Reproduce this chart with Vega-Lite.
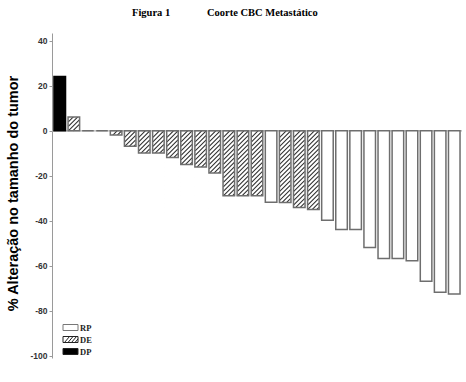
{
  "$schema": "https://vega.github.io/schema/vega-lite/v6.json",
  "width": 410,
  "height": 325,
  "autosize": {"type": "none"},
  "padding": {"left": 52, "top": 33, "right": 4, "bottom": 24},
  "background": "white",
  "title": {
    "text": "Figura 1\u00a0\u00a0\u00a0\u00a0\u00a0\u00a0\u00a0\u00a0\u00a0\u00a0\u00a0\u00a0\u00a0\u00a0Coorte CBC Metastático",
    "anchor": "start",
    "frame": "group",
    "dx": 80,
    "offset": 6.5,
    "baseline": "alphabetic",
    "font": "Liberation Serif",
    "fontSize": 10.5,
    "fontWeight": "bold",
    "color": "black"
  },
  "data": {
    "values": [
      {"id": 1, "status": "DP", "value": 24.2},
      {"id": 2, "status": "DE", "value": 6.2},
      {"id": 3, "status": "DE", "value": 0},
      {"id": 4, "status": "DE", "value": 0},
      {"id": 5, "status": "DE", "value": -1.8},
      {"id": 6, "status": "DE", "value": -6.9},
      {"id": 7, "status": "DE", "value": -9.8},
      {"id": 8, "status": "DE", "value": -9.8},
      {"id": 9, "status": "DE", "value": -11.9},
      {"id": 10, "status": "DE", "value": -15.0},
      {"id": 11, "status": "DE", "value": -16.1},
      {"id": 12, "status": "DE", "value": -18.7},
      {"id": 13, "status": "DE", "value": -28.9},
      {"id": 14, "status": "DE", "value": -28.9},
      {"id": 15, "status": "DE", "value": -28.9},
      {"id": 16, "status": "RP", "value": -31.8},
      {"id": 17, "status": "DE", "value": -31.9},
      {"id": 18, "status": "DE", "value": -34.1},
      {"id": 19, "status": "DE", "value": -35.0},
      {"id": 20, "status": "RP", "value": -39.8},
      {"id": 21, "status": "RP", "value": -43.9},
      {"id": 22, "status": "RP", "value": -43.9},
      {"id": 23, "status": "RP", "value": -51.9},
      {"id": 24, "status": "RP", "value": -56.8},
      {"id": 25, "status": "RP", "value": -56.8},
      {"id": 26, "status": "RP", "value": -57.8},
      {"id": 27, "status": "RP", "value": -66.9},
      {"id": 28, "status": "RP", "value": -71.8},
      {"id": 29, "status": "RP", "value": -72.6}
    ]
  },
  "layer": [
    {
      "data": {"values": [{}]},
      "mark": {"type": "rule", "color": "#b4b4b4", "strokeWidth": 1.2},
      "encoding": {
        "y": {"datum": 0, "type": "quantitative", "title": "% Alteração no tamanho do tumor", "scale": {"domain": [-101, 43.5], "nice": false}}
      }
    },
    {
      "transform": [{"filter": "datum.status === 'DE' && datum.value < 0"}],
      "mark": {
        "type": "point",
        "shape": "M-5.5,6.5L1,0M-5.5,11L5.5,0M-5.5,15.5L5.5,4.5M-5.5,20L5.5,9M-5.5,24.5L5.5,13.5M-5.5,29L5.5,18M-5.5,33.5L5.5,22.5M-5.5,38L5.5,27M-5.5,42.5L5.5,31.5M-5.5,47L5.5,36M-5.5,51.5L5.5,40.5M-5.5,56L5.5,45M-5.5,60.5L5.5,49.5M-5.5,65L5.5,54M-5.5,69.5L5.5,58.5M-5.5,74L5.5,63M-5.5,78.5L5.5,67.5M-5.5,83L5.5,72M-5.5,87.5L5.5,76.5M-5.5,92L5.5,81",
        "size": 4,
        "filled": false,
        "stroke": "#333333",
        "strokeWidth": 1.1,
        "opacity": 1
      },
      "encoding": {
        "x": {"field": "id", "type": "ordinal", "scale": {"paddingInner": 0.18, "paddingOuter": 0.14}, "axis": null},
        "y": {"datum": 0, "type": "quantitative", "title": "% Alteração no tamanho do tumor"}
      }
    },
    {
      "transform": [{"filter": "datum.status === 'DE' && datum.value < 0"}],
      "mark": {"type": "bar", "fill": "white", "stroke": null, "width": {"band": 1.12}},
      "encoding": {
        "x": {"field": "id", "type": "ordinal", "axis": null},
        "y": {"field": "value", "type": "quantitative", "title": "% Alteração no tamanho do tumor"},
        "y2": {"datum": -101}
      }
    },
    {
      "transform": [{"filter": "datum.status === 'DE' && datum.value > 0"}],
      "mark": {
        "type": "point",
        "shape": "M-1,0L5.5,-6.5M-5.5,0L5.5,-11M-5.5,-4.5L5.5,-15.5M-5.5,-9L5.5,-20M-5.5,-13.5L5.5,-24.5M-5.5,-18L5.5,-29",
        "size": 4,
        "filled": false,
        "stroke": "#333333",
        "strokeWidth": 1.1,
        "opacity": 1
      },
      "encoding": {
        "x": {"field": "id", "type": "ordinal", "axis": null},
        "y": {"datum": 0, "type": "quantitative", "title": "% Alteração no tamanho do tumor"}
      }
    },
    {
      "transform": [{"filter": "datum.status === 'DE' && datum.value > 0"}],
      "mark": {"type": "bar", "fill": "white", "stroke": null, "width": {"band": 1.12}},
      "encoding": {
        "x": {"field": "id", "type": "ordinal", "axis": null},
        "y": {"field": "value", "type": "quantitative", "title": "% Alteração no tamanho do tumor"},
        "y2": {"datum": 43.5}
      }
    },
    {
      "mark": {"type": "bar", "strokeWidth": 1.5},
      "encoding": {
        "x": {"field": "id", "type": "ordinal", "axis": null},
        "y": {
          "field": "value",
          "type": "quantitative",
          "title": "% Alteração no tamanho do tumor",
          "axis": {
            "values": [40, 20, 0, -20, -40, -60, -80, -100],
            "labelExpr": "'' + datum.value",
            "grid": false,
            "domainColor": "#9a9a9a",
            "tickColor": "#9a9a9a",
            "tickSize": 3,
            "labelFont": "Liberation Sans",
            "labelFontSize": 8.5,
            "labelFontWeight": "bold",
            "labelColor": "#333333",
            "labelPadding": 2,
            "titleFont": "Liberation Sans",
            "titleFontSize": 14.5,
            "titleFontWeight": "bold",
            "titleColor": "black",
            "titleX": -39,
            "titleY": 160,
            "titleBaseline": "middle",
            "titleAngle": -90,
            "titleAlign": "center"
          }
        },
        "fill": {
          "field": "status",
          "type": "nominal",
          "scale": {"domain": ["RP", "DE", "DP"], "range": ["white", "transparent", "black"]},
          "legend": {
            "orient": "none",
            "legendX": 13,
            "legendY": 289,
            "title": null,
            "symbolType": "M-1.5,-0.6H1.5V0.6H-1.5Z",
            "symbolSize": 100,
            "rowPadding": 1,
            "labelOffset": 4,
            "labelFont": "Liberation Serif",
            "labelFontSize": 8.5,
            "labelFontWeight": "bold",
            "labelColor": "#222222",
            "padding": 0,
            "encode": {
              "symbols": {
                "update": {
                  "shape": [
                    {"test": "datum.value === 'DE'", "value": "M-1.5,-0.6H1.5V0.6H-1.5ZM-1.2,0.6L-0.2,-0.6M-0.5,0.6L0.5,-0.6M0.2,0.6L1.2,-0.6M0.9,0.6L1.5,-0.12"},
                    {"value": "M-1.5,-0.6H1.5V0.6H-1.5Z"}
                  ],
                  "stroke": [
                    {"test": "datum.value === 'RP'", "value": "#777777"},
                    {"value": "#222222"}
                  ],
                  "strokeWidth": {"value": 1},
                  "opacity": {"value": 1}
                }
              }
            }
          }
        },
        "stroke": {
          "condition": {"test": "datum.status === 'DP'", "value": "black"},
          "value": "#6e6e6e"
        }
      }
    }
  ],
  "config": {
    "view": {"stroke": null},
    "legend": {"symbolStrokeColor": "#333333"}
  }
}
